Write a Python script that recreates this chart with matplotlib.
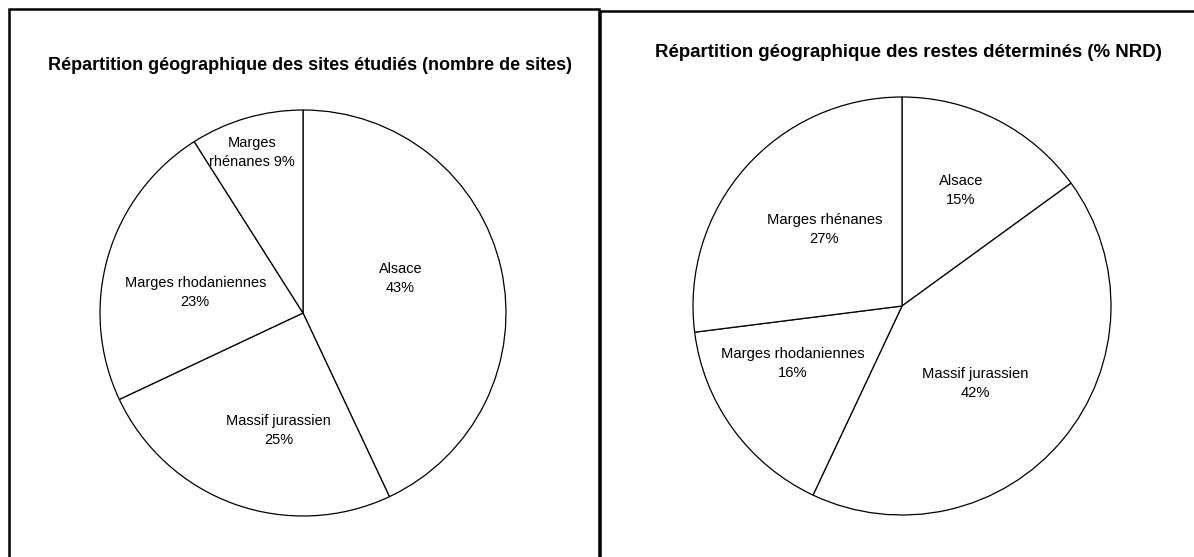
import numpy as np
import matplotlib.pyplot as plt
from matplotlib.patches import Rectangle

plt.rcParams['font.family'] = ['Liberation Sans', 'DejaVu Sans']

# data
titles = ["Répartition géographique des sites étudiés (nombre de sites)",
          "Répartition géographique des restes déterminés (% NRD)"]

sites_labels = ["Alsace", "Massif jurassien", "Marges rhodaniennes", "Marges\nrhénanes"]
sites_values = [43, 25, 23, 9]

nrd_labels = ["Alsace", "Massif jurassien", "Marges rhodaniennes", "Marges rhénanes"]
nrd_values = [15, 42, 16, 27]

# label placement (fraction of radius, angle tweak in degrees)
sites_lab_r = [0.51, 0.59, 0.54, 0.83]
sites_lab_da = [7, 8, 5.5, 1.4]
sites_sep = ["\n", "\n", "\n", " "]
nrd_lab_r = [0.62, 0.51, 0.59, 0.52]
nrd_lab_da = [0, -7, -8, -3]
nrd_sep = ["\n", "\n", "\n", "\n"]

W, H = 1194, 557
fig = plt.figure(figsize=(W / 100, H / 100), dpi=100)


def draw_pie(rect, values, labels, lab_r, lab_da, seps, fs, ls):
    ax = fig.add_axes(rect)
    wedges, _ = ax.pie(values, startangle=90, counterclock=False,
                       colors=['white'] * len(values),
                       wedgeprops=dict(edgecolor='black', linewidth=0.9))
    total = sum(values)
    for w, lab, v, r, da, sep in zip(wedges, labels, values, lab_r, lab_da, seps):
        mid = np.deg2rad((w.theta1 + w.theta2) / 2 + da)
        ax.text(r * np.cos(mid), r * np.sin(mid),
                f"{lab}{sep}{round(100 * v / total)}%",
                ha='center', va='center', fontsize=fs, linespacing=ls)
    ax.set_xlim(-1, 1)
    ax.set_ylim(-1, 1)
    ax.set_aspect('equal')
    ax.axis('off')
    return ax


draw_pie([100 / W, 1 - 516 / H, 406 / W, 406 / H],
         sites_values, sites_labels, sites_lab_r, sites_lab_da, sites_sep,
         10.45, 1.42)
draw_pie([693 / W, 1 - 515 / H, 418 / W, 418 / H],
         nrd_values, nrd_labels, nrd_lab_r, nrd_lab_da, nrd_sep,
         10.65, 1.45)

fig.text(309.5 / W, 1 - 65.5 / H, titles[0], ha='center', va='center',
         fontsize=13.0, fontweight='bold')
fig.text(908.5 / W, 1 - 52.5 / H, titles[1], ha='center', va='center',
         fontsize=13.4, fontweight='bold')

# chart area borders
fig.add_artist(Rectangle((9 / W, -0.1), 590 / W, 1.1 - 9 / H,
                         transform=fig.transFigure, fill=False,
                         edgecolor='black', linewidth=1.8, clip_on=False))
fig.add_artist(Rectangle((599.5 / W, -0.1), 700 / W, 1.1 - 11 / H,
                         transform=fig.transFigure, fill=False,
                         edgecolor='black', linewidth=1.8, clip_on=False))

fig.savefig("out.png", dpi=100, facecolor='white')
